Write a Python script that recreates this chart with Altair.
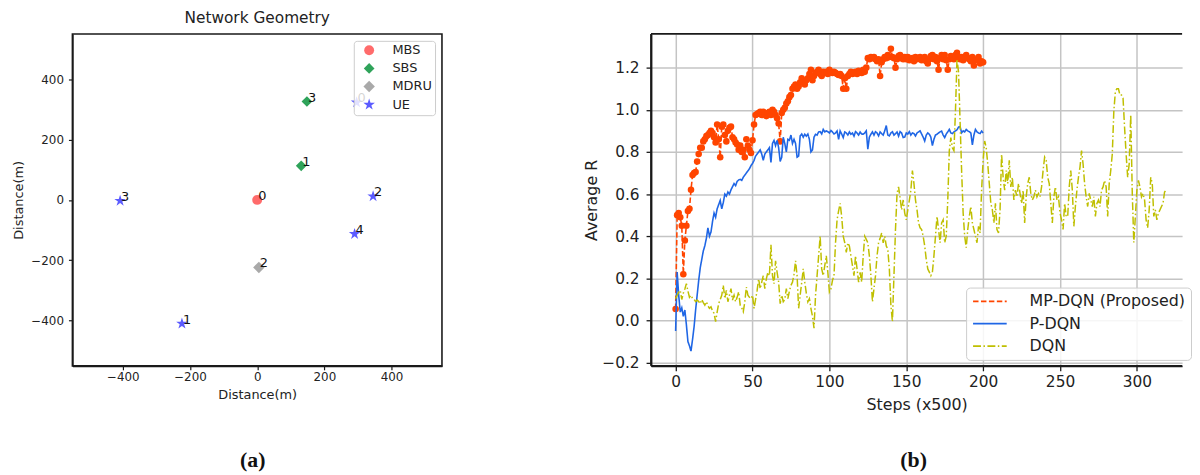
import altair as alt
import pandas as pd

FONT = "DejaVu Sans"
TXT = "#222222"
INK = "#1a1a1a"

# ---------------- panel (a): network geometry ----------------
node_type = ["MBS", "SBS", "SBS", "MDRU", "UE", "UE", "UE", "UE", "UE"]
node_id = ["0", "1", "3", "2", "0", "1", "2", "3", "4"]
node_x = [0, 131, 148, 5, 296, -224, 345, -408, 290]
node_y = [0, 113, 326, -224, 323, -410, 12, -3, -113]

type_order = ["MBS", "SBS", "MDRU", "UE"]
type_colors = ["#ff6b6b", "#2fa35a", "#a9a9a9", "#5b5bff"]
type_sizes = [100, 150, 150, 135]
geo_ticks = [-400, -200, 0, 200, 400]

# ---------------- panel (b): learning curves ----------------
series_names = ["MP-DQN (Proposed)", "P-DQN", "DQN"]
series_colors = ["#ff4500", "#1f66e5", "#bfbf00"]

mp_dqn = [
    0.055, 0.50, 0.51, 0.49, 0.45, 0.22, 0.38, 0.45, 0.52, 0.53,
    0.62, 0.69, 0.70, 0.705, 0.755, 0.79, 0.82, 0.82, 0.85, 0.86,
    0.875, 0.88, 0.89, 0.90, 0.89, 0.87, 0.845, 0.93, 0.86, 0.775,
    0.92, 0.93, 0.88, 0.85, 0.90, 0.915, 0.92, 0.87, 0.86, 0.845,
    0.835, 0.81, 0.83, 0.80, 0.81, 0.775, 0.86, 0.83, 0.81, 0.795,
    0.855, 0.93, 0.975, 0.98, 0.985, 0.99, 0.975, 0.99, 0.98, 0.97,
    0.985, 0.99, 0.975, 1.0, 0.99, 0.975, 0.96, 0.935, 0.85, 0.985,
    1.0, 1.01, 1.03, 1.04, 1.06, 1.07, 1.10, 1.11, 1.12, 1.10,
    1.11, 1.13, 1.15, 1.13, 1.12, 1.14, 1.15, 1.17, 1.19, 1.14,
    1.16, 1.175, 1.18, 1.19, 1.17, 1.16, 1.18, 1.175, 1.18, 1.17,
    1.19, 1.18, 1.175, 1.18, 1.175, 1.17, 1.165, 1.17, 1.16, 1.10,
    1.15, 1.10, 1.16, 1.17, 1.18, 1.17, 1.175, 1.18, 1.17, 1.185,
    1.18, 1.175, 1.19, 1.18, 1.20, 1.245, 1.24, 1.25, 1.245, 1.25,
    1.24, 1.23, 1.24, 1.16, 1.225, 1.24, 1.25, 1.245, 1.26, 1.25,
    1.29, 1.25, 1.245, 1.20, 1.24, 1.255, 1.26, 1.245, 1.24, 1.25,
    1.24, 1.25, 1.235, 1.24, 1.245, 1.23, 1.25, 1.24, 1.245, 1.25,
    1.235, 1.24, 1.25, 1.23, 1.22, 1.24, 1.255, 1.26, 1.24, 1.25,
    1.23, 1.19, 1.245, 1.26, 1.24, 1.26, 1.235, 1.19, 1.24, 1.255,
    1.25, 1.24, 1.26, 1.27, 1.25, 1.24, 1.25, 1.235, 1.25, 1.26,
    1.245, 1.24, 1.23, 1.25, 1.21, 1.235, 1.24, 1.25, 1.22, 1.23,
    1.225,
]

p_dqn = [
    -0.05, 0.23, 0.12, 0.04, 0.06, 0.02, 0.05, -0.02, -0.10, -0.12,
    -0.145, -0.09, -0.03, 0.05, 0.12, 0.19, 0.25, 0.29, 0.33, 0.355,
    0.39, 0.44, 0.40, 0.42, 0.47, 0.51, 0.49, 0.53, 0.55, 0.57,
    0.53, 0.56, 0.60, 0.59, 0.61, 0.60, 0.62, 0.635, 0.65, 0.64,
    0.66, 0.667, 0.67, 0.665, 0.68, 0.69, 0.70, 0.71, 0.72, 0.735,
    0.745, 0.76, 0.78, 0.79, 0.80, 0.81, 0.79, 0.76, 0.79, 0.80,
    0.81, 0.82, 0.75, 0.84, 0.855, 0.83, 0.855, 0.82, 0.755, 0.775,
    0.87, 0.84, 0.80, 0.86, 0.855, 0.88, 0.84, 0.86, 0.84, 0.775,
    0.78, 0.876, 0.885, 0.87, 0.884, 0.875, 0.885, 0.86, 0.80, 0.81,
    0.87, 0.884, 0.88, 0.895, 0.896, 0.885, 0.907, 0.895, 0.90, 0.896,
    0.89, 0.902, 0.895, 0.885, 0.89, 0.90, 0.86, 0.90, 0.885, 0.868,
    0.895, 0.89, 0.88, 0.895, 0.884, 0.89, 0.875, 0.896, 0.89, 0.88,
    0.895, 0.885, 0.884, 0.89, 0.90, 0.813, 0.87, 0.884, 0.895, 0.88,
    0.896, 0.89, 0.876, 0.895, 0.887, 0.88, 0.90, 0.925, 0.88, 0.876,
    0.89, 0.896, 0.88, 0.887, 0.895, 0.875, 0.896, 0.89, 0.868, 0.87,
    0.89, 0.885, 0.896, 0.88, 0.89, 0.887, 0.876, 0.89, 0.895, 0.90,
    0.885, 0.87, 0.852, 0.88, 0.89, 0.884, 0.87, 0.83, 0.86, 0.88,
    0.884, 0.89, 0.895, 0.899, 0.88, 0.868, 0.885, 0.895, 0.907, 0.89,
    0.887, 0.895, 0.90, 0.905, 0.918, 0.92, 0.891, 0.90, 0.895, 0.907,
    0.90, 0.896, 0.89, 0.834, 0.88, 0.907, 0.895, 0.89, 0.887, 0.899,
    0.89,
]

dqn = [
    0.104, 0.12, 0.135, 0.143, 0.10, 0.13, 0.15, 0.175, 0.14, 0.11,
    0.12, 0.105, 0.10, 0.09, 0.097, 0.09, 0.08, 0.10, 0.085, 0.073,
    0.089, 0.07, 0.058, 0.065, 0.045, 0.034, -0.005, 0.04, 0.081, 0.10,
    0.12, 0.167, 0.104, 0.143, 0.089, 0.12, 0.151, 0.097, 0.12, 0.089,
    0.11, 0.136, 0.073, 0.06, 0.042, 0.089, 0.159, 0.12, 0.11, 0.104,
    0.12, 0.058, 0.10, 0.143, 0.198, 0.151, 0.182, 0.213, 0.151, 0.198,
    0.229, 0.213, 0.36, 0.213, 0.175, 0.283, 0.229, 0.182, 0.08, 0.12,
    0.089, 0.10, 0.151, 0.104, 0.14, 0.167, 0.182, 0.22, 0.283, 0.213,
    0.058, 0.12, 0.18, 0.245, 0.182, 0.13, 0.089, 0.104, 0.058, 0.02,
    -0.036, 0.12, 0.213, 0.307, 0.40, 0.245, 0.213, 0.26, 0.307, 0.229,
    0.136, 0.151, 0.19, 0.213, 0.369, 0.478, 0.52, 0.556, 0.494, 0.40,
    0.369, 0.323, 0.369, 0.354, 0.307, 0.26, 0.213, 0.307, 0.245, 0.182,
    0.229, 0.182, 0.307, 0.40, 0.385, 0.369, 0.307, 0.213, 0.089, 0.151,
    0.213, 0.307, 0.369, 0.39, 0.416, 0.369, 0.40, 0.354, 0.338, 0.245,
    0.073, -0.005, 0.213, 0.432, 0.603, 0.634, 0.58, 0.525, 0.572, 0.51,
    0.478, 0.525, 0.57, 0.619, 0.712, 0.65, 0.572, 0.525, 0.463, 0.44,
    0.432, 0.40, 0.354, 0.29, 0.245, 0.23, 0.213, 0.229, 0.307, 0.40,
    0.494, 0.432, 0.369, 0.463, 0.478, 0.369, 0.40, 0.572, 0.806, 0.868,
    0.82, 0.806, 0.993, 1.24, 1.18, 0.946, 0.712, 0.51, 0.40, 0.346,
    0.432, 0.494, 0.541, 0.463, 0.432, 0.40, 0.369, 0.447, 0.416, 0.619,
    0.76, 0.852, 0.82, 0.743, 0.65, 0.556, 0.525, 0.463, 0.556, 0.432,
    0.416, 0.525, 0.79, 0.68, 0.619, 0.712, 0.65, 0.76, 0.634, 0.68,
    0.572, 0.619, 0.587, 0.65, 0.603, 0.556, 0.619, 0.463, 0.587, 0.65,
    0.68, 0.603, 0.572, 0.587, 0.619, 0.587, 0.603, 0.587, 0.634, 0.712,
    0.775, 0.76, 0.68, 0.65, 0.556, 0.463, 0.587, 0.634, 0.572, 0.587,
    0.51, 0.478, 0.432, 0.556, 0.494, 0.494, 0.634, 0.712, 0.619, 0.447,
    0.541, 0.619, 0.68, 0.728, 0.806, 0.743, 0.65, 0.587, 0.541, 0.603,
    0.572, 0.541, 0.587, 0.494, 0.556, 0.572, 0.541, 0.619, 0.634, 0.665,
    0.634, 0.494, 0.65, 0.712, 0.79, 0.993, 1.086, 1.10, 1.10, 1.07,
    1.07, 1.055, 0.915, 0.79, 0.68, 0.743, 0.977, 0.603, 0.37, 0.494,
    0.619, 0.665, 0.634, 0.587, 0.603, 0.572, 0.478, 0.44, 0.525, 0.68,
    0.65, 0.494, 0.525, 0.478, 0.51, 0.525, 0.541, 0.556, 0.61, 0.619,
]

step_ticks = [0, 50, 100, 150, 200, 250, 300]
r_ticks = [-0.2, 0.0, 0.2, 0.4, 0.6, 0.8, 1.0, 1.2]
caption_text = ["(a)", "(b)"]

# ---------------- layout constants ----------------
LW, LH = 373, 335
RW, RH = 536, 335

STAR = ("M0,-1L0.225,-0.309L0.951,-0.309L0.363,0.118L0.588,0.809L0,0.382"
        "L-0.588,0.809L-0.363,0.118L-0.951,-0.309L-0.225,-0.309Z")
type_shapes = ["circle", "diamond", "diamond", STAR]

df_nodes = pd.DataFrame({"type": node_type, "id": node_id, "x": node_x, "y": node_y})
frame_df = pd.DataFrame({"f": [0]})

geo_legend = alt.Legend(
    title=None, orient="top-right", offset=7, padding=3,
    fillColor="rgba(255,255,255,0.82)", strokeColor="#cccccc", cornerRadius=3,
    labelFontSize=13, labelFont=FONT, labelColor=TXT, symbolSize=130,
    symbolOffset=6, labelOffset=17, rowPadding=4.3, symbolStrokeWidth=0,
)

ax_common = dict(domain=True, domainColor=INK, domainWidth=1.6, domainOpacity=1, tickColor=INK,
                 tickWidth=1.2, tickOpacity=1, labelFontSize=12, titleFontSize=13, grid=False,
                 labelColor=TXT, titleColor=TXT, titleFontWeight="normal", labelFont=FONT,
                 titleFont=FONT, zindex=2)

xa = alt.X("x:Q", scale=alt.Scale(domain=[-550, 550], nice=False, zero=False),
           axis=alt.Axis(values=geo_ticks, title="Distance(m)", tickSize=4,
                         labelPadding=2, titlePadding=6, **ax_common))
ya = alt.Y("y:Q", scale=alt.Scale(domain=[-550, 550], nice=False, zero=False),
           axis=alt.Axis(values=geo_ticks, title="Distance(m)", tickSize=4,
                         labelPadding=5, titlePadding=5, **ax_common))

frame_a = alt.Chart(frame_df).mark_rect(fill="transparent", stroke=INK, strokeWidth=1.6, strokeOpacity=1).encode(
    x=alt.value(0), x2=alt.value(LW), y=alt.value(0), y2=alt.value(LH))
pts_a = alt.Chart(df_nodes).mark_point(filled=True, opacity=1, strokeWidth=0).encode(
    x=xa, y=ya,
    color=alt.Color("type:N", scale=alt.Scale(domain=type_order, range=type_colors), legend=geo_legend),
    shape=alt.Shape("type:N", scale=alt.Scale(domain=type_order, range=type_shapes), legend=geo_legend),
    size=alt.Size("type:N", scale=alt.Scale(domain=type_order, range=type_sizes), legend=None),
)
lbl_a = alt.Chart(df_nodes).mark_text(align="left", baseline="alphabetic", dx=1, dy=0,
                                      fontSize=13, font=FONT, color="#111111").encode(
    x="x:Q", y="y:Q", text="id:N")
cap_a = alt.Chart(pd.DataFrame({"t": [caption_text[0]]})).mark_text(
    font="Liberation Serif", fontWeight="bold", fontSize=22, baseline="middle", align="center",
    color="#111111").encode(text="t:N", x=alt.value(182), y=alt.value(430))

left = alt.layer(pts_a, lbl_a, frame_a, cap_a).properties(
    width=LW, height=LH,
    title=alt.TitleParams("Network Geometry", fontSize=15.5, fontWeight="normal", font=FONT,
                          offset=6.5, color=TXT, anchor="middle"),
)

# ---------------- panel (b) ----------------
rows = []
for i, v in enumerate(mp_dqn):
    rows.append({"step": i, "r": v, "series": series_names[0]})
for i, v in enumerate(p_dqn):
    rows.append({"step": i, "r": v, "series": series_names[1]})
for i, v in enumerate(dqn):
    rows.append({"step": i, "r": v, "series": series_names[2]})
df_b = pd.DataFrame(rows)

leg = alt.Legend(
    title=None, orient="none", legendX=318, legendY=256, labelFontSize=16, labelFont=FONT,
    labelColor=TXT, symbolType="M-3,0H3", symbolSize=128, symbolStrokeWidth=1.8,
    symbolOffset=10, labelOffset=32, rowPadding=6.5, padding=6,
    fillColor="rgba(255,255,255,0.85)", strokeColor="#cccccc", cornerRadius=4,
)

axb = dict(domain=True, domainColor=INK, domainWidth=1.8, domainOpacity=1, tickColor=INK, tickWidth=1.3,
           tickOpacity=1, tickSize=5, labelFontSize=15.5, titleFontSize=16, labelColor=TXT, titleColor=TXT,
           titleFontWeight="normal", labelFont=FONT, titleFont=FONT, grid=True,
           gridColor="#c4c4c4", gridWidth=1.5)
xb = alt.X("step:Q", scale=alt.Scale(domain=[-16, 329.4], nice=False, zero=False),
           axis=alt.Axis(values=step_ticks, title="Steps (x500)", labelPadding=4, titlePadding=7, **axb))
yb = alt.Y("r:Q", scale=alt.Scale(domain=[-0.215, 1.36], nice=False, zero=False),
           axis=alt.Axis(values=r_ticks, format=".1f", title="Average R", labelPadding=7, titlePadding=2, **axb))
col = alt.Color("series:N", scale=alt.Scale(domain=series_names, range=series_colors), legend=leg)
dash = alt.StrokeDash("series:N", scale=alt.Scale(domain=series_names,
                                                  range=[[5.5, 2.5], [1, 0], [8, 2.5, 1.5, 2.5]]), legend=leg)
base = alt.Chart(df_b)
mp_line = base.transform_filter(alt.datum.series == series_names[0]).mark_line(strokeWidth=1.6).encode(
    x=xb, y=yb, color=col, strokeDash=dash)
mp_pts = base.transform_filter(alt.datum.series == series_names[0]).mark_circle(
    size=44, opacity=1, color=series_colors[0]).encode(x="step:Q", y="r:Q")
p_line = base.transform_filter(alt.datum.series == series_names[1]).mark_line(strokeWidth=1.6).encode(
    x="step:Q", y="r:Q", color=col, strokeDash=dash)
d_line = base.transform_filter(alt.datum.series == series_names[2]).mark_line(strokeWidth=1.5).encode(
    x="step:Q", y="r:Q", color=col, strokeDash=dash)
top_b = alt.Chart(frame_df).mark_rect(fill=INK, strokeWidth=0).encode(
    x=alt.value(0), x2=alt.value(RW), y=alt.value(-0.9), y2=alt.value(0.9))
left_b = alt.Chart(frame_df).mark_rect(fill=INK, strokeWidth=0).encode(
    x=alt.value(-0.9), x2=alt.value(0.9), y=alt.value(0), y2=alt.value(RH))
bottom_b = alt.Chart(frame_df).mark_rect(fill=INK, strokeWidth=0).encode(
    x=alt.value(0), x2=alt.value(RW), y=alt.value(RH - 0.9), y2=alt.value(RH + 0.9))
cap_b = alt.Chart(pd.DataFrame({"t": [caption_text[1]]})).mark_text(
    font="Liberation Serif", fontWeight="bold", fontSize=22, baseline="middle", align="center",
    color="#111111").encode(text="t:N", x=alt.value(265), y=alt.value(430))
right = alt.layer(mp_line, mp_pts, p_line, d_line, top_b, left_b, bottom_b, cap_b).properties(
    width=RW, height=RH)

chart = alt.hconcat(left, right, spacing=211, bounds="flush").resolve_scale(
    color="independent", shape="independent", strokeDash="independent", size="independent",
    x="independent", y="independent"
).resolve_legend(
    color="independent", shape="independent", strokeDash="independent"
).properties(
    padding={"left": 4, "top": 0, "right": 0, "bottom": 0}
).configure(font=FONT, background="white").configure_view(stroke="transparent")

chart.save("out.html", embed_options={"renderer": "svg", "actions": False})
